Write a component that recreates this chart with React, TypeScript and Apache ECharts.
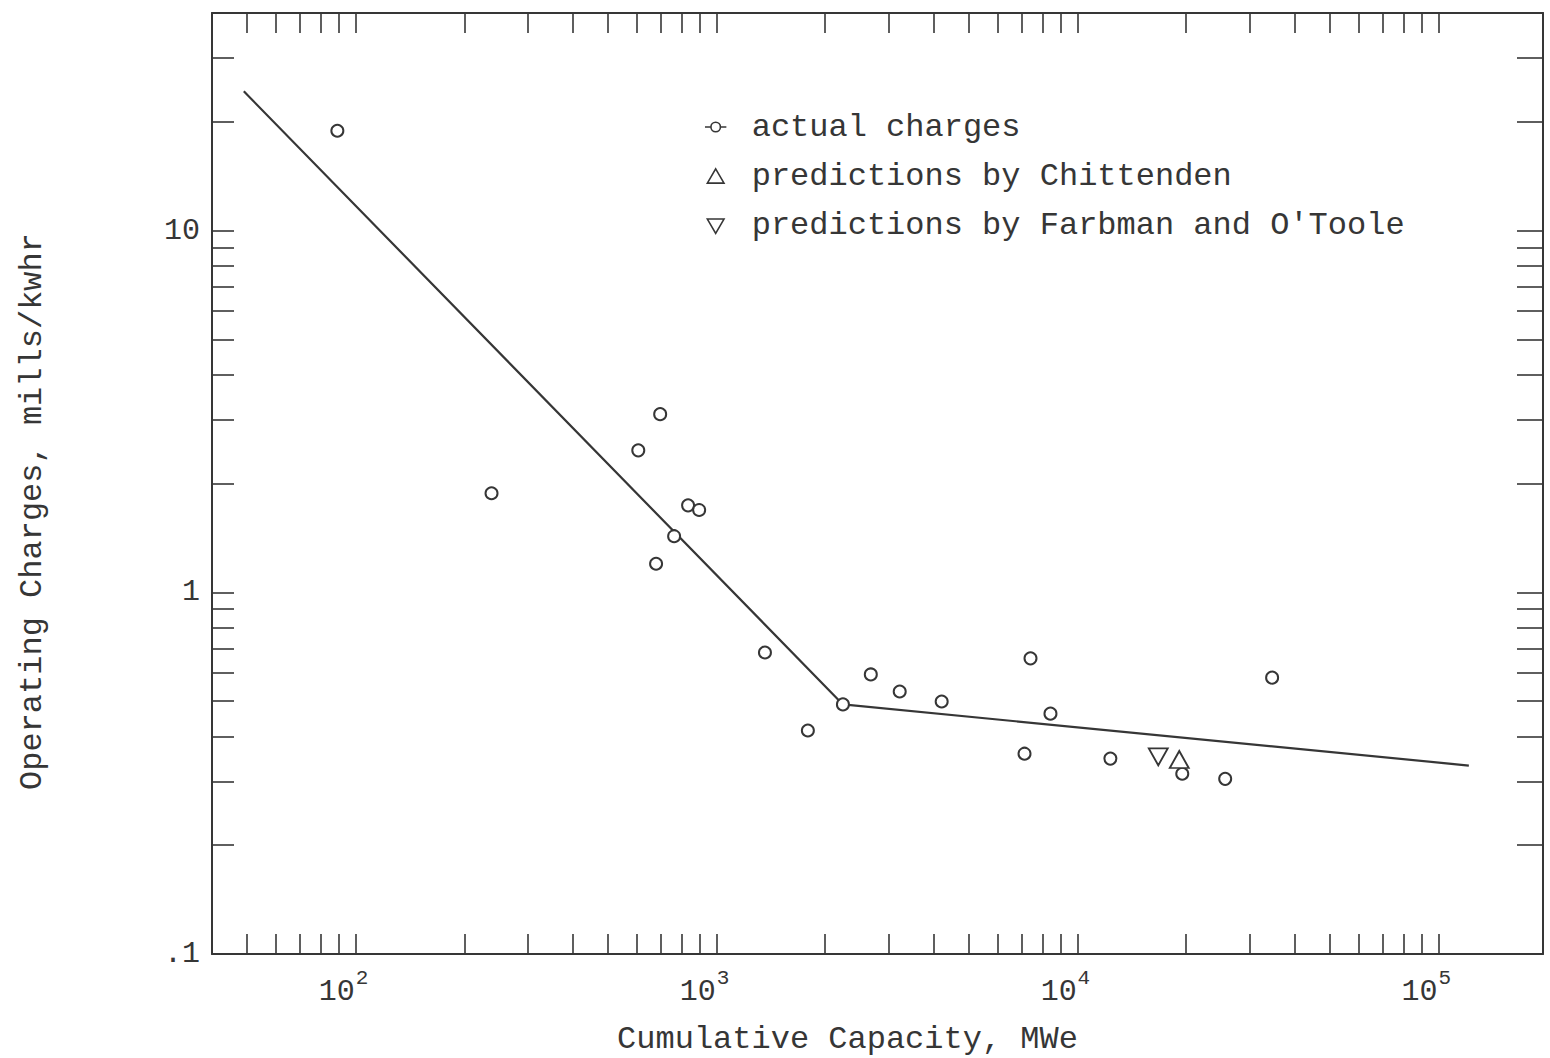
import React, { useEffect, useRef } from "react";
import * as echarts from "echarts";

const FONT = '"Liberation Mono", "DejaVu Sans Mono", "Courier New", monospace';
const INK = "#363636";

// actual charges (cumulative capacity MWe, mills/kwhr)
const actualX = [89, 238, 607, 698, 834, 895, 763, 680, 1362, 1791, 2240, 2676, 3218, 4206, 7413, 8420, 7135, 12340, 19520, 25670, 34630];
const actualY = [18.9, 1.88, 2.47, 3.11, 1.74, 1.69, 1.43, 1.2, 0.682, 0.415, 0.49, 0.593, 0.532, 0.499, 0.657, 0.462, 0.358, 0.347, 0.315, 0.305, 0.581];

// predictions
const chittendenX = [19150];
const chittendenY = [0.345];
const farbmanX = [16750];
const farbmanY = [0.351];

// fitted broken line
const fitX = [49, 2240, 121500];
const fitY = [24.3, 0.49, 0.332];

// axis ticks and labels
const xTickValues = [
  50, 60, 70, 80, 90, 100,
  200, 300, 400, 500, 600, 700, 800, 900, 1000,
  2000, 3000, 4000, 5000, 6000, 7000, 8000, 9000, 10000,
  20000, 30000, 40000, 50000, 60000, 70000, 80000, 90000, 100000,
];
const xLabelValues = [100, 1000, 10000, 100000];
const yTickValues = [
  0.2, 0.3, 0.4, 0.5, 0.6, 0.7, 0.8, 0.9, 1,
  2, 3, 4, 5, 6, 7, 8, 9, 10,
  20, 30,
];
const yLabelValues = [0.1, 1, 10];
const yLabelTexts = [".1", "1", "10"];

const X_MIN = 40;
const X_MAX = 195000;
const Y_MIN = 0.1;
const Y_MAX = 40;

const zip = (xs: number[], ys: number[]) => xs.map((x, i) => [x, ys[i]]);

const ICON_CIRCLE = "path://M0,0L0,0M20,16L20,16M1,8H6M14,8H19M6,8A4,4 0 1 0 14,8A4,4 0 1 0 6,8";
const ICON_UP = "path://M0,0L0,0M20,16L20,16M10,2L17,14L3,14Z";
const ICON_DOWN = "path://M0,0L0,0M20,16L20,16M3,3L17,3L10,15Z";

export default function App() {
  const ref = useRef<HTMLDivElement>(null);
  useEffect(() => {
    if (!ref.current) return;
    const chart = echarts.init(ref.current, undefined, { renderer: "svg" });
    const axisLine = { show: true, lineStyle: { color: INK, width: 2 } };
    const xFmt = (v: number) => "{b|10}{s|" + Math.round(Math.log10(v)) + "}";
    const yFmt = (v: number) => {
      const i = yLabelValues.findIndex((t) => Math.abs(t - v) / t < 1e-6);
      return i >= 0 ? yLabelTexts[i] : "";
    };
    chart.setOption({
      animation: false,
      backgroundColor: "#ffffff",
      grid: { left: 212, right: 7, top: 13, bottom: 104, outerBoundsMode: "none" },
      legend: {
        orient: "vertical",
        left: 698,
        top: 106,
        itemWidth: 62,
        itemHeight: 19,
        itemGap: 17,
        selectedMode: false,
        itemStyle: { color: "#ffffff", borderColor: INK, borderWidth: 1.6 },
        textStyle: { fontFamily: FONT, fontSize: 32, color: INK, lineHeight: 32 },
        data: [
          { name: "actual charges", icon: ICON_CIRCLE },
          { name: "predictions by Chittenden", icon: ICON_UP },
          { name: "predictions by Farbman and O'Toole", icon: ICON_DOWN },
        ],
      },
      xAxis: [
        {
          type: "log",
          logBase: 10,
          min: X_MIN,
          max: X_MAX,
          position: "bottom",
          axisLine,
          splitLine: { show: false },
          axisTick: { show: true, inside: true, length: 20, customValues: xTickValues, lineStyle: { color: INK, width: 1.6 } },
          axisLabel: {
            show: true,
            customValues: xLabelValues,
            margin: 14,
            padding: [0, 24, 0, 0],
            formatter: xFmt,
            rich: {
              b: { fontFamily: FONT, fontSize: 30, color: INK, verticalAlign: "bottom" },
              s: { fontFamily: FONT, fontSize: 21, color: INK, verticalAlign: "top", padding: [0, 0, 18, 1] },
            },
          },
          name: "Cumulative Capacity, MWe",
          nameLocation: "middle",
          nameGap: 68,
          nameTextStyle: { fontFamily: FONT, fontSize: 32, lineHeight: 34, color: INK, padding: [0, 60, 0, 0] },
        },
        {
          type: "log",
          logBase: 10,
          min: X_MIN,
          max: X_MAX,
          position: "top",
          axisLine,
          splitLine: { show: false },
          axisTick: { show: true, inside: true, length: 20, customValues: xTickValues, lineStyle: { color: INK, width: 1.6 } },
          axisLabel: { show: false },
        },
      ],
      yAxis: [
        {
          type: "log",
          logBase: 10,
          min: Y_MIN,
          max: Y_MAX,
          position: "left",
          axisLine,
          splitLine: { show: false },
          axisTick: { show: true, inside: true, length: 22, customValues: yTickValues, lineStyle: { color: INK, width: 1.6 } },
          axisLabel: {
            show: true,
            customValues: yLabelValues,
            margin: 12,
            formatter: yFmt,
            fontFamily: FONT,
            fontSize: 30,
            color: INK,
          },
          name: "Operating Charges, mills/kwhr",
          nameLocation: "middle",
          nameGap: 164,
          nameTextStyle: { fontFamily: FONT, fontSize: 32, color: INK, padding: [0, 56, 0, 0] },
        },
        {
          type: "log",
          logBase: 10,
          min: Y_MIN,
          max: Y_MAX,
          position: "right",
          axisLine,
          splitLine: { show: false },
          axisTick: { show: true, inside: true, length: 26, customValues: yTickValues, lineStyle: { color: INK, width: 1.6 } },
          axisLabel: { show: false },
        },
      ],
      series: [
        {
          name: "fit",
          type: "line",
          data: zip(fitX, fitY),
          showSymbol: false,
          symbol: "none",
          lineStyle: { color: INK, width: 2.2 },
          z: 2,
        },
        {
          name: "actual charges",
          type: "scatter",
          data: zip(actualX, actualY),
          symbol: "circle",
          symbolSize: 12,
          itemStyle: { color: "#ffffff", borderColor: INK, borderWidth: 2, opacity: 1 },
          z: 3,
        },
        {
          name: "predictions by Chittenden",
          type: "scatter",
          data: zip(chittendenX, chittendenY),
          symbol: "triangle",
          symbolSize: [19, 17],
          itemStyle: { color: "#ffffff", borderColor: INK, borderWidth: 1.8, opacity: 1 },
          z: 3,
        },
        {
          name: "predictions by Farbman and O'Toole",
          type: "scatter",
          data: zip(farbmanX, farbmanY),
          symbol: "triangle",
          symbolRotate: 180,
          symbolSize: [19, 17],
          itemStyle: { color: "#ffffff", borderColor: INK, borderWidth: 1.8, opacity: 1 },
          z: 3,
        },
      ],
    });
    return () => chart.dispose();
  }, []);
  return (
    <div
      ref={ref}
      style={{ position: "fixed", left: 0, top: 0, width: 1550, height: 1058, background: "#ffffff" }}
    />
  );
}
